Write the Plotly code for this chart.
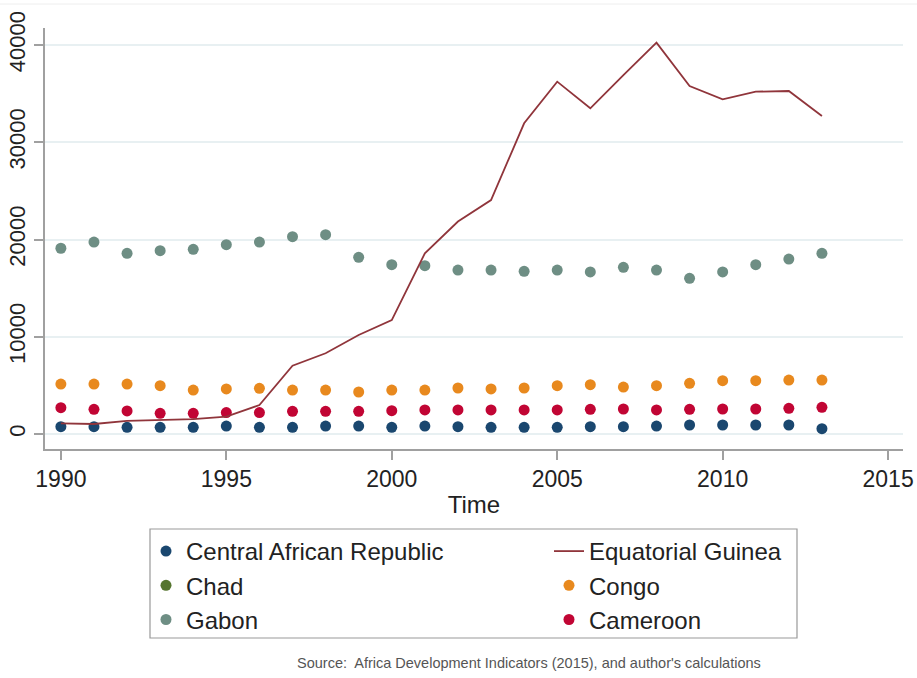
import plotly.graph_objects as go

years = list(range(1990, 2014))

car = [750, 750, 690, 690, 690, 820, 690, 690, 820, 820, 690, 820,
       750, 690, 690, 690, 750, 750, 820, 925, 925, 925, 925, 550]
chad = [None] * len(years)
gabon = [19100, 19740, 18580, 18850, 18990, 19470, 19740, 20290, 20500, 18170, 17410, 17310,
         16860, 16860, 16730, 16860, 16660, 17140, 16860, 16010, 16660, 17410, 17990, 18580]
congo = [5140, 5140, 5140, 4970, 4520, 4630, 4700, 4520, 4520, 4320, 4520, 4520,
         4730, 4630, 4730, 4970, 5070, 4830, 4970, 5210, 5480, 5480, 5550, 5550]
cameroon = [2710, 2540, 2370, 2130, 2130, 2200, 2200, 2330, 2330, 2330, 2400, 2470,
            2470, 2470, 2470, 2470, 2540, 2570, 2470, 2540, 2570, 2570, 2640, 2740]
eq_guinea = [1100, 1030, 1340, 1440, 1540, 1780, 2980, 7020, 8300, 10180, 11720, 18580,
             21850, 24060, 31950, 36230, 33490, 36910, 40240, 35780, 34410, 35200, 35270, 32700]

x_ticks = [1990, 1995, 2000, 2005, 2010, 2015]
y_ticks = [0, 10000, 20000, 30000, 40000]

FONT = "Liberation Sans, Arial, Helvetica, sans-serif"

W, H = 917, 678
ML, MR, MT, MB = 45, 14, 28, 229
PW, PH = W - ML - MR, H - MT - MB

def px_x(p):
    return (p - ML) / PW

def px_y(p):
    return (MT + PH - p) / PH

fig = go.Figure()

def dots(name, vals, color, rank, legend):
    fig.add_trace(go.Scatter(x=years, y=vals, mode="markers", name=name,
                             marker=dict(color=color, size=11, line=dict(width=0)),
                             legendrank=rank, legend=legend))

dots("Central African Republic", car, "#1a476f", 1, "legend")
dots("Chad", chad, "#55752f", 2, "legend")
dots("Gabon", gabon, "#6e8e84", 3, "legend")
dots("Congo", congo, "#e8891e", 5, "legend2")
dots("Cameroon", cameroon, "#c10534", 6, "legend2")
fig.add_trace(go.Scatter(x=years, y=eq_guinea, mode="lines", name="Equatorial Guinea",
                         line=dict(color="#90353b", width=1.8), legendrank=4, legend="legend2"))

legend_common = dict(
    orientation="v", xref="container", yref="container",
    xanchor="left", yanchor="top",
    borderwidth=0, bgcolor="rgba(0,0,0,0)",
    font=dict(size=24, family=FONT, color="#222222"),
    traceorder="normal", itemsizing="trace",
)

fig.update_layout(
    width=W, height=H,
    margin=dict(l=ML, r=MR, t=MT, b=MB, autoexpand=False),
    paper_bgcolor="white", plot_bgcolor="white",
    font=dict(family=FONT, color="#222222", size=22),
    showlegend=True,
    legend=dict(x=146 / W, y=1 - 529 / H, **legend_common),
    legend2=dict(x=549 / W, y=1 - 529 / H, **legend_common),
    shapes=[
        dict(type="line", xref="paper", yref="paper", x0=px_x(0), x1=px_x(W),
             y0=px_y(4), y1=px_y(4), line=dict(color="#eeeeee", width=1)),
        dict(type="rect", xref="paper", yref="paper", x0=px_x(150), x1=px_x(797),
             y0=px_y(638), y1=px_y(529), line=dict(color="#999999", width=1.2),
             fillcolor="rgba(0,0,0,0)", layer="below"),
    ],
    annotations=[dict(text="Source:  Africa Development Indicators (2015), and author's calculations",
                      xref="paper", yref="paper", x=px_x(529), y=px_y(663),
                      xanchor="center", yanchor="middle", showarrow=False,
                      font=dict(size=14.5, color="#555555", family=FONT))],
)

fig.update_xaxes(
    range=[1989.52, 2015.45], tickvals=x_ticks, ticktext=[str(v) for v in x_ticks],
    showline=True, linecolor="#a0a0a0", linewidth=1.5,
    ticks="outside", ticklen=9, tickcolor="#a0a0a0", tickwidth=1.5,
    showgrid=False, zeroline=False, automargin=False,
    title=dict(text="Time", font=dict(size=24), standoff=5),
    tickfont=dict(size=23),
)
fig.update_yaxes(
    range=[-1542, 41748], tickvals=y_ticks, ticktext=[str(v) for v in y_ticks],
    tickangle=-90, automargin=False,
    showline=True, linecolor="#a0a0a0", linewidth=1.5,
    ticks="outside", ticklen=9, tickcolor="#a0a0a0", tickwidth=1.5,
    showgrid=True, gridcolor="#e8f0f2", gridwidth=1.5, zeroline=False,
    tickfont=dict(size=22),
)

fig.write_html("out.html")
